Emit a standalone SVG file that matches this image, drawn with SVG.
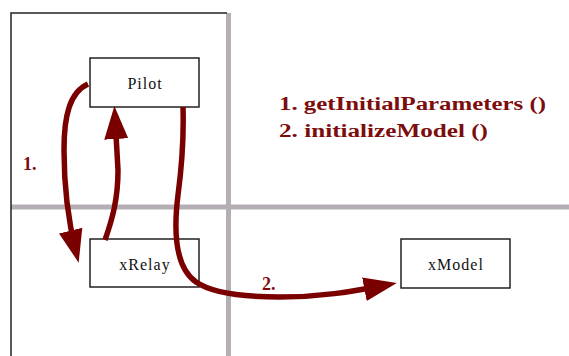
<svg xmlns="http://www.w3.org/2000/svg" width="569" height="356" viewBox="0 0 569 356">
<style>
.grid{stroke:#b5afb5;stroke-width:5;fill:none}
.frame{stroke:#222;stroke-width:1.5;fill:none}
.box{fill:#fff;stroke:#222;stroke-width:1.5}
.nt{font-family:"Liberation Serif",serif;font-size:16px;fill:#111;text-anchor:middle;letter-spacing:1px}
.arr{fill:none;stroke:#7a0000;stroke-width:5.5;stroke-linecap:butt;marker-end:url(#ah)}
.lbl{font-family:"Liberation Serif",serif;font-weight:bold;font-size:18px;fill:#7d0d0d}
</style>
<defs>
<marker id="ah" markerUnits="userSpaceOnUse" markerWidth="34" markerHeight="26" refX="22" refY="12" orient="auto" viewBox="0 0 34 24">
<path d="M0,0 L33,12 L0,24 z" fill="#7a0000"/>
</marker>
</defs>
<rect width="569" height="356" fill="#fff"/>
<g id="grid">
<path class="grid" d="M228.5,13 V356"/>
<path class="grid" d="M11,207 H569"/>
<path class="frame" d="M11,356 V13 H227"/>
</g>
<g id="pilot">
<rect class="box" x="90" y="58" width="109" height="49"/>
<text class="nt" x="145" y="89">Pilot</text>
</g>
<g id="xrelay">
<rect class="box" x="90" y="239" width="109" height="48"/>
<text class="nt" x="145" y="270">xRelay</text>
</g>
<g id="xmodel">
<rect class="box" x="401" y="239" width="109" height="49"/>
<text class="nt" x="456" y="270">xModel</text>
</g>
<g id="connectors">
<path class="arr" d="M88,84 C70,92 64,115 64,150 C64,190 68,220 76,252"/>
<path class="arr" d="M105,240 C112,220 118,200 118,170 L115,117"/>
<path class="arr" d="M183,107 C184,140 182,165 178,195 C173,235 176,268 196,282 C212,293 240,297 280,297 C320,297 350,292 386,285"/>
<text class="lbl" x="23" y="170">1.</text>
<text class="lbl" x="262" y="290">2.</text>
</g>
<g id="legend">
<text class="lbl" x="279" y="110" textLength="267" lengthAdjust="spacingAndGlyphs">1. getInitialParameters ()</text>
<text class="lbl" x="279" y="137" textLength="209" lengthAdjust="spacingAndGlyphs">2. initializeModel ()</text>
</g>
</svg>
